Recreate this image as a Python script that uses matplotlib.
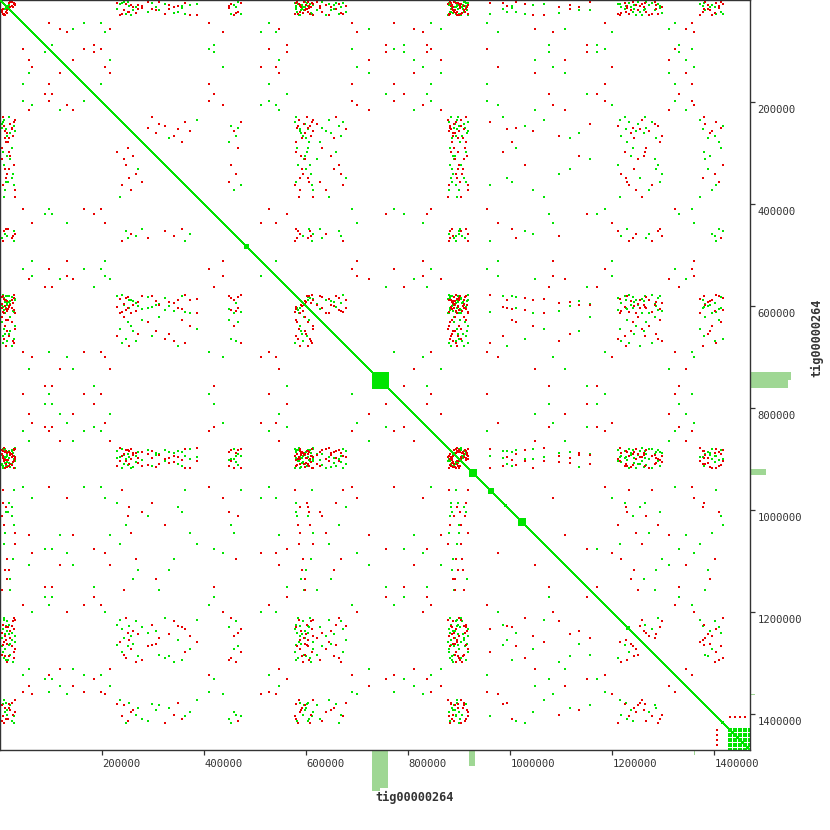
import numpy as np
import matplotlib
matplotlib.use("Agg")
import matplotlib.pyplot as plt
from matplotlib.patches import Rectangle
from matplotlib.transforms import ScaledTranslation, blended_transform_factory

seq_name = "tig00000264"
seq_len = 1470600
tick_values = [200000, 400000, 600000, 800000, 1000000, 1200000, 1400000]

# repeat families: copy start (kb) and strand of each copy
rep_A_kb = [13, 24, 266, 340, 462, 593, 609, 668, 887, 893, 906, 1095, 1218, 1297, 1401]
rep_A_str = "+-+-++-+-++-+-+"
rep_B_kb = [5, 17, 229, 297, 580, 601, 659, 883, 898, 913, 985, 1224, 1264, 1379]
rep_B_str = "-++-+--++-+++-"
rep_C_kb = [9, 28, 257, 371, 459, 588, 613, 638, 880, 900, 918, 1045, 1246, 1271, 1396]
rep_C_str = "+--++-+-++-+-++"
rep_D_kb = [4, 20, 242, 312, 595, 598, 621, 889, 891, 909, 1157, 1250, 1283, 1382]
rep_D_str = "-+-++-++--+-++"
rep_E_kb = [11, 15, 277, 356, 448, 579, 606, 626, 885, 902, 914, 1003, 1229, 1293, 1409]
rep_E_str = "++-+-+--+-++-+-"
rep_F_kb = [7, 29, 234, 385, 586, 614, 644, 878, 895, 903, 1066, 1215, 1259, 1372]
rep_F_str = "+-++--+-+-++-+"
rep_G_kb = [3, 22, 250, 289, 466, 582, 603, 631, 882, 890, 911, 1012, 1241, 1267, 1414]
rep_G_str = "-+-+-++-+--++-+"
rep_H_kb = [10, 18, 270, 331, 591, 600, 655, 886, 897, 907, 1118, 1243, 1285, 1388]
rep_H_str = "++--+-+-++-+--"
rep_I_kb = [6, 26, 238, 362, 471, 578, 611, 672, 879, 894, 917, 960, 1233, 1278, 1404]
rep_I_str = "+-+--+-++-+-++-"
rep_J_kb = [14, 19, 260, 305, 589, 597, 649, 888, 892, 915, 1134, 1237, 1262, 1392]
rep_J_str = "-++-+-+--++-+-"
rep_K_kb = [8, 27, 246, 323, 453, 584, 608, 664, 881, 899, 904, 1028, 1212, 1289, 1418]
rep_K_str = "+--+-++-+-+-++-"
rep_L_kb = [12, 23, 253, 349, 587, 604, 677, 884, 896, 910, 994, 1227, 1255, 1377]
rep_L_str = "-+-+--++-++-+-"
rep_M_kb = [45, 96, 165, 198, 409, 527, 690, 771, 845, 955, 1186, 1322, 1356]
rep_M_str = "+-++-+--++-+-"
rep_N_kb = [56, 118, 143, 215, 546, 722, 812, 864, 1048, 1108, 1312, 1345]
rep_N_str = "-+-++-+-+--+"
rep_O_kb = [88, 101, 183, 420, 563, 756, 791, 836, 1076, 1150, 1170, 1330]
rep_O_str = "++-+--+-+-++"
rep_P_kb = [62, 130, 205, 437, 512, 540, 700, 828, 975, 1083, 1199, 1360]
rep_P_str = "+-+-++--+-+-"

# tandem array at the contig end and an inverted copy next to it
tand_kb = [1428, 1433, 1438, 1443, 1448, 1453, 1458, 1463, 1468]
tand_str = "+++++++++"
inv_kb = [1406, 1430.5, 1440.5, 1450.5, 1460.5]
inv_str = "-++++"

# local self-overlaps on the main diagonal (start kb, end kb)
blk_start_kb = [478, 729, 848, 871, 920, 956, 988, 1015, 1201, 1226, 1306, 1362, 1395, 1413]
blk_end_kb = [488, 762, 852, 874, 934, 968, 994, 1031, 1204, 1235, 1309, 1365, 1398, 1419]

# annotation track (start kb, end kb, coverage)
ann_start_kb = [728, 745, 919, 1360]
ann_end_kb = [745, 760, 931, 1361.5]
ann_cov = [40.5, 38, 15.5, 5]

families = [(rep_A_kb, rep_A_str), (rep_B_kb, rep_B_str), (rep_C_kb, rep_C_str),
            (rep_D_kb, rep_D_str), (rep_E_kb, rep_E_str), (rep_F_kb, rep_F_str),
            (rep_G_kb, rep_G_str), (rep_H_kb, rep_H_str), (rep_I_kb, rep_I_str),
            (rep_J_kb, rep_J_str), (rep_K_kb, rep_K_str), (rep_L_kb, rep_L_str),
            (rep_M_kb, rep_M_str), (rep_N_kb, rep_N_str), (rep_O_kb, rep_O_str),
            (rep_P_kb, rep_P_str), (tand_kb, tand_str), (inv_kb, inv_str)]

green = "#00e400"
red = "#e80000"
bar_green = "#9fd794"
dark = "#333333"

fig = plt.figure(figsize=(8.3, 8.3), dpi=100)
ax = fig.add_axes([0.3 / 830, 79.7 / 830, 750 / 830, 750 / 830])
ax.set_xlim(0, seq_len)
ax.set_ylim(seq_len, 0)

gx, gy, rx, ry = [], [], [], []
for kb, st in families:
    pos = np.array(kb) * 1000.0
    plus = np.array([c == "+" for c in st])
    for i in range(len(pos)):
        for j in range(len(pos)):
            if i == j:
                continue
            if plus[i] == plus[j]:
                gx.append(pos[i]); gy.append(pos[j])
            else:
                rx.append(pos[i]); ry.append(pos[j])

ax.scatter(gx, gy, s=2.1, marker="s", color=green, linewidths=0, zorder=2)
ax.scatter(rx, ry, s=2.1, marker="s", color=red, linewidths=0, zorder=2)

ax.plot([0, seq_len], [0, seq_len], color=green, lw=1.0, antialiased=False, zorder=3)
for a, b in zip(blk_start_kb, blk_end_kb):
    ax.add_patch(Rectangle((a * 1000, a * 1000), (b - a) * 1000, (b - a) * 1000,
                           facecolor=green, edgecolor="none", zorder=4))

# annotation bars outside the plot
px = 1.0 / 750
tb = blended_transform_factory(ax.transData, ax.transAxes)
tr = blended_transform_factory(ax.transAxes, ax.transData)
for a, b, c in zip(ann_start_kb, ann_end_kb, ann_cov):
    ax.add_patch(Rectangle((a * 1000, 0), (b - a) * 1000, -c * px, transform=tb,
                           facecolor=bar_green, edgecolor="none", clip_on=False))
    ax.add_patch(Rectangle((1.0, a * 1000), c * px, (b - a) * 1000, transform=tr,
                           facecolor=bar_green, edgecolor="none", clip_on=False))

for sp in ax.spines.values():
    sp.set_color(dark)
    sp.set_linewidth(1.0)

ax.xaxis.tick_bottom()
ax.yaxis.tick_right()
ax.set_xticks(tick_values)
ax.set_yticks(tick_values)
ax.set_xticklabels([str(v) for v in tick_values])
ax.set_yticklabels([str(v) for v in tick_values])
ax.tick_params(direction="out", length=3.6, width=0.9, colors=dark, labelsize=7.6)
ax.tick_params(axis="x", pad=2.5)
ax.tick_params(axis="y", pad=1.5)
for lbl in ax.get_xticklabels():
    lbl.set_fontfamily("DejaVu Sans Mono")
    lbl.set_ha("left")
for lbl in ax.get_yticklabels():
    lbl.set_fontfamily("DejaVu Sans Mono")
    lbl.set_va("top")
    lbl.set_transform(lbl.get_transform() + ScaledTranslation(0, -2 / 72, fig.dpi_scale_trans))

fig.text(375 / 830, 1 - 791 / 830, seq_name, ha="left", va="top", fontsize=8.6,
         fontweight="bold", family="DejaVu Sans Mono", color=dark)
fig.text(817 / 830, 1 - 377 / 830, seq_name, ha="center", va="bottom", rotation=90,
         fontsize=8.6, fontweight="bold", family="DejaVu Sans Mono", color=dark)

fig.savefig("out.png", dpi=100)
